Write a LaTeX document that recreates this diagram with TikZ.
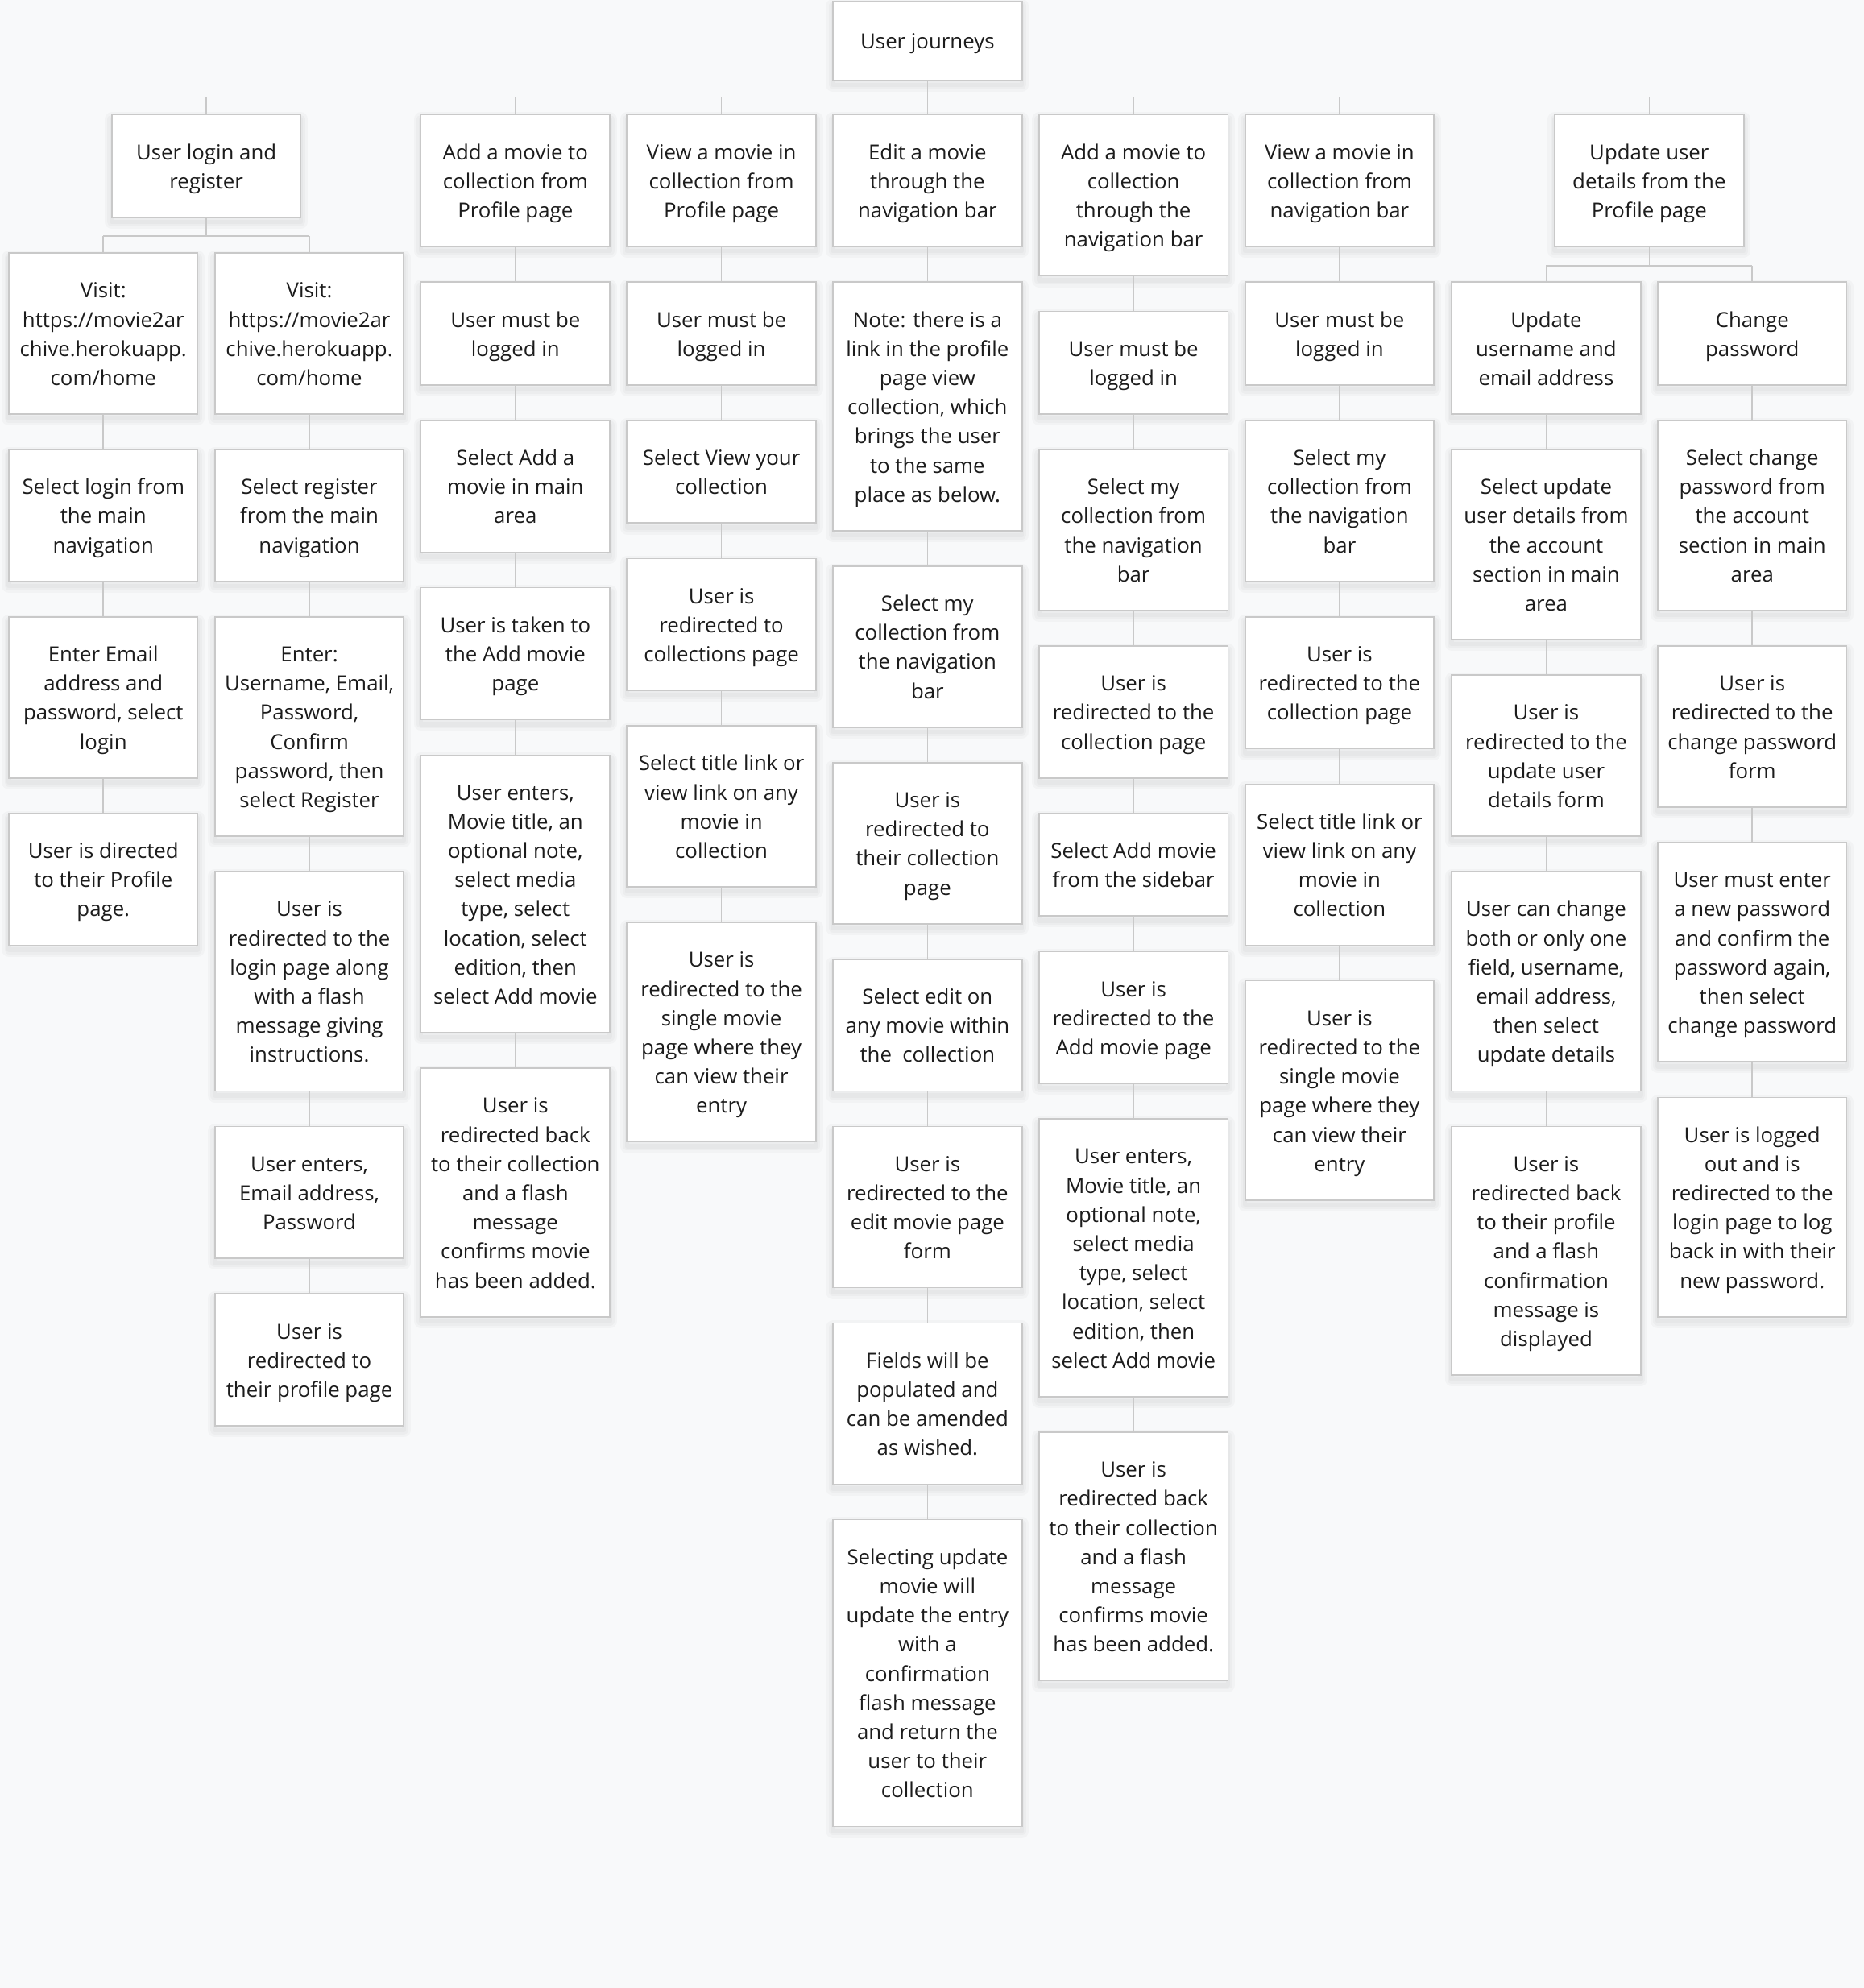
\documentclass[tikz,border=0pt]{standalone}
\usepackage{fontspec}
\setmainfont{Open Sans}
\definecolor{bg}{HTML}{F8F9FA}
\definecolor{edge}{HTML}{C9C9C9}
\definecolor{txt}{HTML}{1C1C1C}
\tikzset{
 softshadow/.style={preaction={draw=black, draw opacity=0.022, line width=11pt, line join=round, transform canvas={yshift=-3.5pt}},
   preaction={draw=black, draw opacity=0.022, line width=7pt, line join=round, transform canvas={yshift=-3.5pt}},
   preaction={draw=black, draw opacity=0.025, line width=3.5pt, line join=round, transform canvas={yshift=-3.5pt}}},
 jbox/.style={softshadow, draw=edge, line width=1.1pt, fill=white, minimum width=149pt, inner sep=0pt, align=center, text=txt,
   font=\fontsize{16.4pt}{23pt}\selectfont},
 conn/.style={draw=edge, line width=1.1pt}
}
\newcommand\jstrut{\rule[-5.1pt]{0pt}{23pt}}
\newcommand\bx[5]{\node[jbox, minimum height={#4-#3}, anchor=north] (#1) at (#2,#3) {\jstrut#5\jstrut};}
\begin{document}
\begin{tikzpicture}[x=1pt,y=-1pt]
\fill[bg] (0,0) rectangle (1470,1568);
\useasboundingbox (0,0) rectangle (1470,1568);

% root
\bx{root}{731.5}{0.5}{63}{User journeys}

% level 1
\bx{A}{162.75}{90}{171}{User login and\\register}
\bx{B}{406.5}{90}{194}{Add a movie to\\collection from\\Profile page}
\bx{C}{569}{90}{194}{View a movie in\\collection from\\Profile page}
\bx{D}{731.5}{90}{194}{Edit a movie\\through the\\navigation bar}
\bx{E}{894}{90}{217}{Add a movie to\\collection\\through the\\navigation bar}
\bx{F}{1056.5}{90}{194}{View a movie in\\collection from\\navigation bar}
\bx{G}{1300.75}{90}{194}{Update user\\details from the\\Profile page}

% column A1
\bx{a11}{81.5}{199}{326}{Visit:\\https://movie2ar\\chive.herokuapp.\\com/home}
\bx{a12}{81.5}{354}{458}{Select login from\\the main\\navigation}
\bx{a13}{81.5}{486}{613}{Enter Email\\address and\\password, select\\login}
\bx{a14}{81.5}{641}{745}{User is directed\\to their Profile\\page.}

% column A2
\bx{a21}{244}{199}{326}{Visit:\\https://movie2ar\\chive.herokuapp.\\com/home}
\bx{a22}{244}{354}{458}{Select register\\from the main\\navigation}
\bx{a23}{244}{486}{659}{Enter:\\Username, Email,\\Password,\\Confirm\\password, then\\select Register}
\bx{a24}{244}{687}{860}{User is\\redirected to the\\login page along\\with a flash\\message giving\\instructions.}
\bx{a25}{244}{888}{992}{User enters,\\Email address,\\Password}
\bx{a26}{244}{1020}{1124}{User is\\redirected to\\their profile page}

% column B
\bx{b1}{406.5}{222}{303}{User must be\\logged in}
\bx{b2}{406.5}{331}{435}{Select Add a\\movie in main\\area}
\bx{b3}{406.5}{463}{567}{User is taken to\\the Add movie\\page}
\bx{b4}{406.5}{595}{814}{User enters,\\Movie title, an\\optional note,\\select media\\type, select\\location, select\\edition, then\\select Add movie}
\bx{b5}{406.5}{842}{1038}{User is\\redirected back\\to their collection\\and a flash\\message\\confirms movie\\has been added.}

% column C
\bx{c1}{569}{222}{303}{User must be\\logged in}
\bx{c2}{569}{331}{412}{Select View your\\collection}
\bx{c3}{569}{440}{544}{User is\\redirected to\\collections page}
\bx{c4}{569}{572}{699}{Select title link or\\view link on any\\movie in\\collection}
\bx{c5}{569}{727}{900}{User is\\redirected to the\\single movie\\page where they\\can view their\\entry}

% column D
\bx{d1}{731.5}{222}{418}{Note: there is a\\link in the profile\\page view\\collection, which\\brings the user\\to the same\\place as below.}
\bx{d2}{731.5}{446}{573}{Select my\\collection from\\the navigation\\bar}
\bx{d3}{731.5}{601}{728}{User is\\redirected to\\their collection\\page}
\bx{d4}{731.5}{756}{860}{Select edit on\\any movie within\\the\ \ collection}
\bx{d5}{731.5}{888}{1015}{User is\\redirected to the\\edit movie page\\form}
\bx{d6}{731.5}{1043}{1170}{Fields will be\\populated and\\can be amended\\as wished.}
\bx{d7}{731.5}{1198}{1440}{Selecting update\\movie will\\update the entry\\with a\\confirmation\\flash message\\and return the\\user to their\\collection}

% column E
\bx{e1}{894}{245}{326}{User must be\\logged in}
\bx{e2}{894}{354}{481}{Select my\\collection from\\the navigation\\bar}
\bx{e3}{894}{509}{613}{User is\\redirected to the\\collection page}
\bx{e4}{894}{641}{722}{Select Add movie\\from the sidebar}
\bx{e5}{894}{750}{854}{User is\\redirected to the\\Add movie page}
\bx{e6}{894}{882}{1101}{User enters,\\Movie title, an\\optional note,\\select media\\type, select\\location, select\\edition, then\\select Add movie}
\bx{e7}{894}{1129}{1325}{User is\\redirected back\\to their collection\\and a flash\\message\\confirms movie\\has been added.}

% column F
\bx{f1}{1056.5}{222}{303}{User must be\\logged in}
\bx{f2}{1056.5}{331}{458}{Select my\\collection from\\the navigation\\bar}
\bx{f3}{1056.5}{486}{590}{User is\\redirected to the\\collection page}
\bx{f4}{1056.5}{618}{745}{Select title link or\\view link on any\\movie in\\collection}
\bx{f5}{1056.5}{773}{946}{User is\\redirected to the\\single movie\\page where they\\can view their\\entry}

% column G1
\bx{g11}{1219.5}{222}{326}{Update\\username and\\email address}
\bx{g12}{1219.5}{354}{504}{Select update\\user details from\\the account\\section in main\\area}
\bx{g13}{1219.5}{532}{659}{User is\\redirected to the\\update user\\details form}
\bx{g14}{1219.5}{687}{860}{User can change\\both or only one\\field, username,\\email address,\\then select\\update details}
\bx{g15}{1219.5}{888}{1084}{User is\\redirected back\\to their profile\\and a flash\\confirmation\\message is\\displayed}

% column G2
\bx{g21}{1382}{222}{303}{Change\\password}
\bx{g22}{1382}{331}{481}{Select change\\password from\\the account\\section in main\\area}
\bx{g23}{1382}{509}{636}{User is\\redirected to the\\change password\\form}
\bx{g24}{1382}{664}{837}{User must enter\\a new password\\and confirm the\\password again,\\then select\\change password}
\bx{g25}{1382}{865}{1038}{User is logged\\out and is\\redirected to the\\login page to log\\back in with their\\new password.}

% buses
\coordinate (busM) at (731.5,76.5);
\coordinate (busA) at (162.75,186);
\coordinate (busG) at (1300.75,209.5);

\draw[conn] (root.south) -- (busM);
\draw[conn] (A.north |- busM) -- (G.north |- busM);
\foreach \n in {A,B,C,D,E,F,G} \draw[conn] (\n.north) -- (\n.north |- busM);

\draw[conn] (A.south) -- (busA);
\draw[conn] (a11.north |- busA) -- (a21.north |- busA);
\draw[conn] (a11.north) -- (a11.north |- busA);
\draw[conn] (a21.north) -- (a21.north |- busA);

\draw[conn] (G.south) -- (busG);
\draw[conn] (g11.north |- busG) -- (g21.north |- busG);
\draw[conn] (g11.north) -- (g11.north |- busG);
\draw[conn] (g21.north) -- (g21.north |- busG);

\draw[conn] (a11) -- (a12) (a12) -- (a13) (a13) -- (a14);
\draw[conn] (a21) -- (a22) (a22) -- (a23) (a23) -- (a24) (a24) -- (a25) (a25) -- (a26);
\draw[conn] (B) -- (b1) (b1) -- (b2) (b2) -- (b3) (b3) -- (b4) (b4) -- (b5);
\draw[conn] (C) -- (c1) (c1) -- (c2) (c2) -- (c3) (c3) -- (c4) (c4) -- (c5);
\draw[conn] (D) -- (d1) (d1) -- (d2) (d2) -- (d3) (d3) -- (d4) (d4) -- (d5) (d5) -- (d6) (d6) -- (d7);
\draw[conn] (E) -- (e1) (e1) -- (e2) (e2) -- (e3) (e3) -- (e4) (e4) -- (e5) (e5) -- (e6) (e6) -- (e7);
\draw[conn] (F) -- (f1) (f1) -- (f2) (f2) -- (f3) (f3) -- (f4) (f4) -- (f5);
\draw[conn] (g11) -- (g12) (g12) -- (g13) (g13) -- (g14) (g14) -- (g15);
\draw[conn] (g21) -- (g22) (g22) -- (g23) (g23) -- (g24) (g24) -- (g25);
\end{tikzpicture}
\end{document}
